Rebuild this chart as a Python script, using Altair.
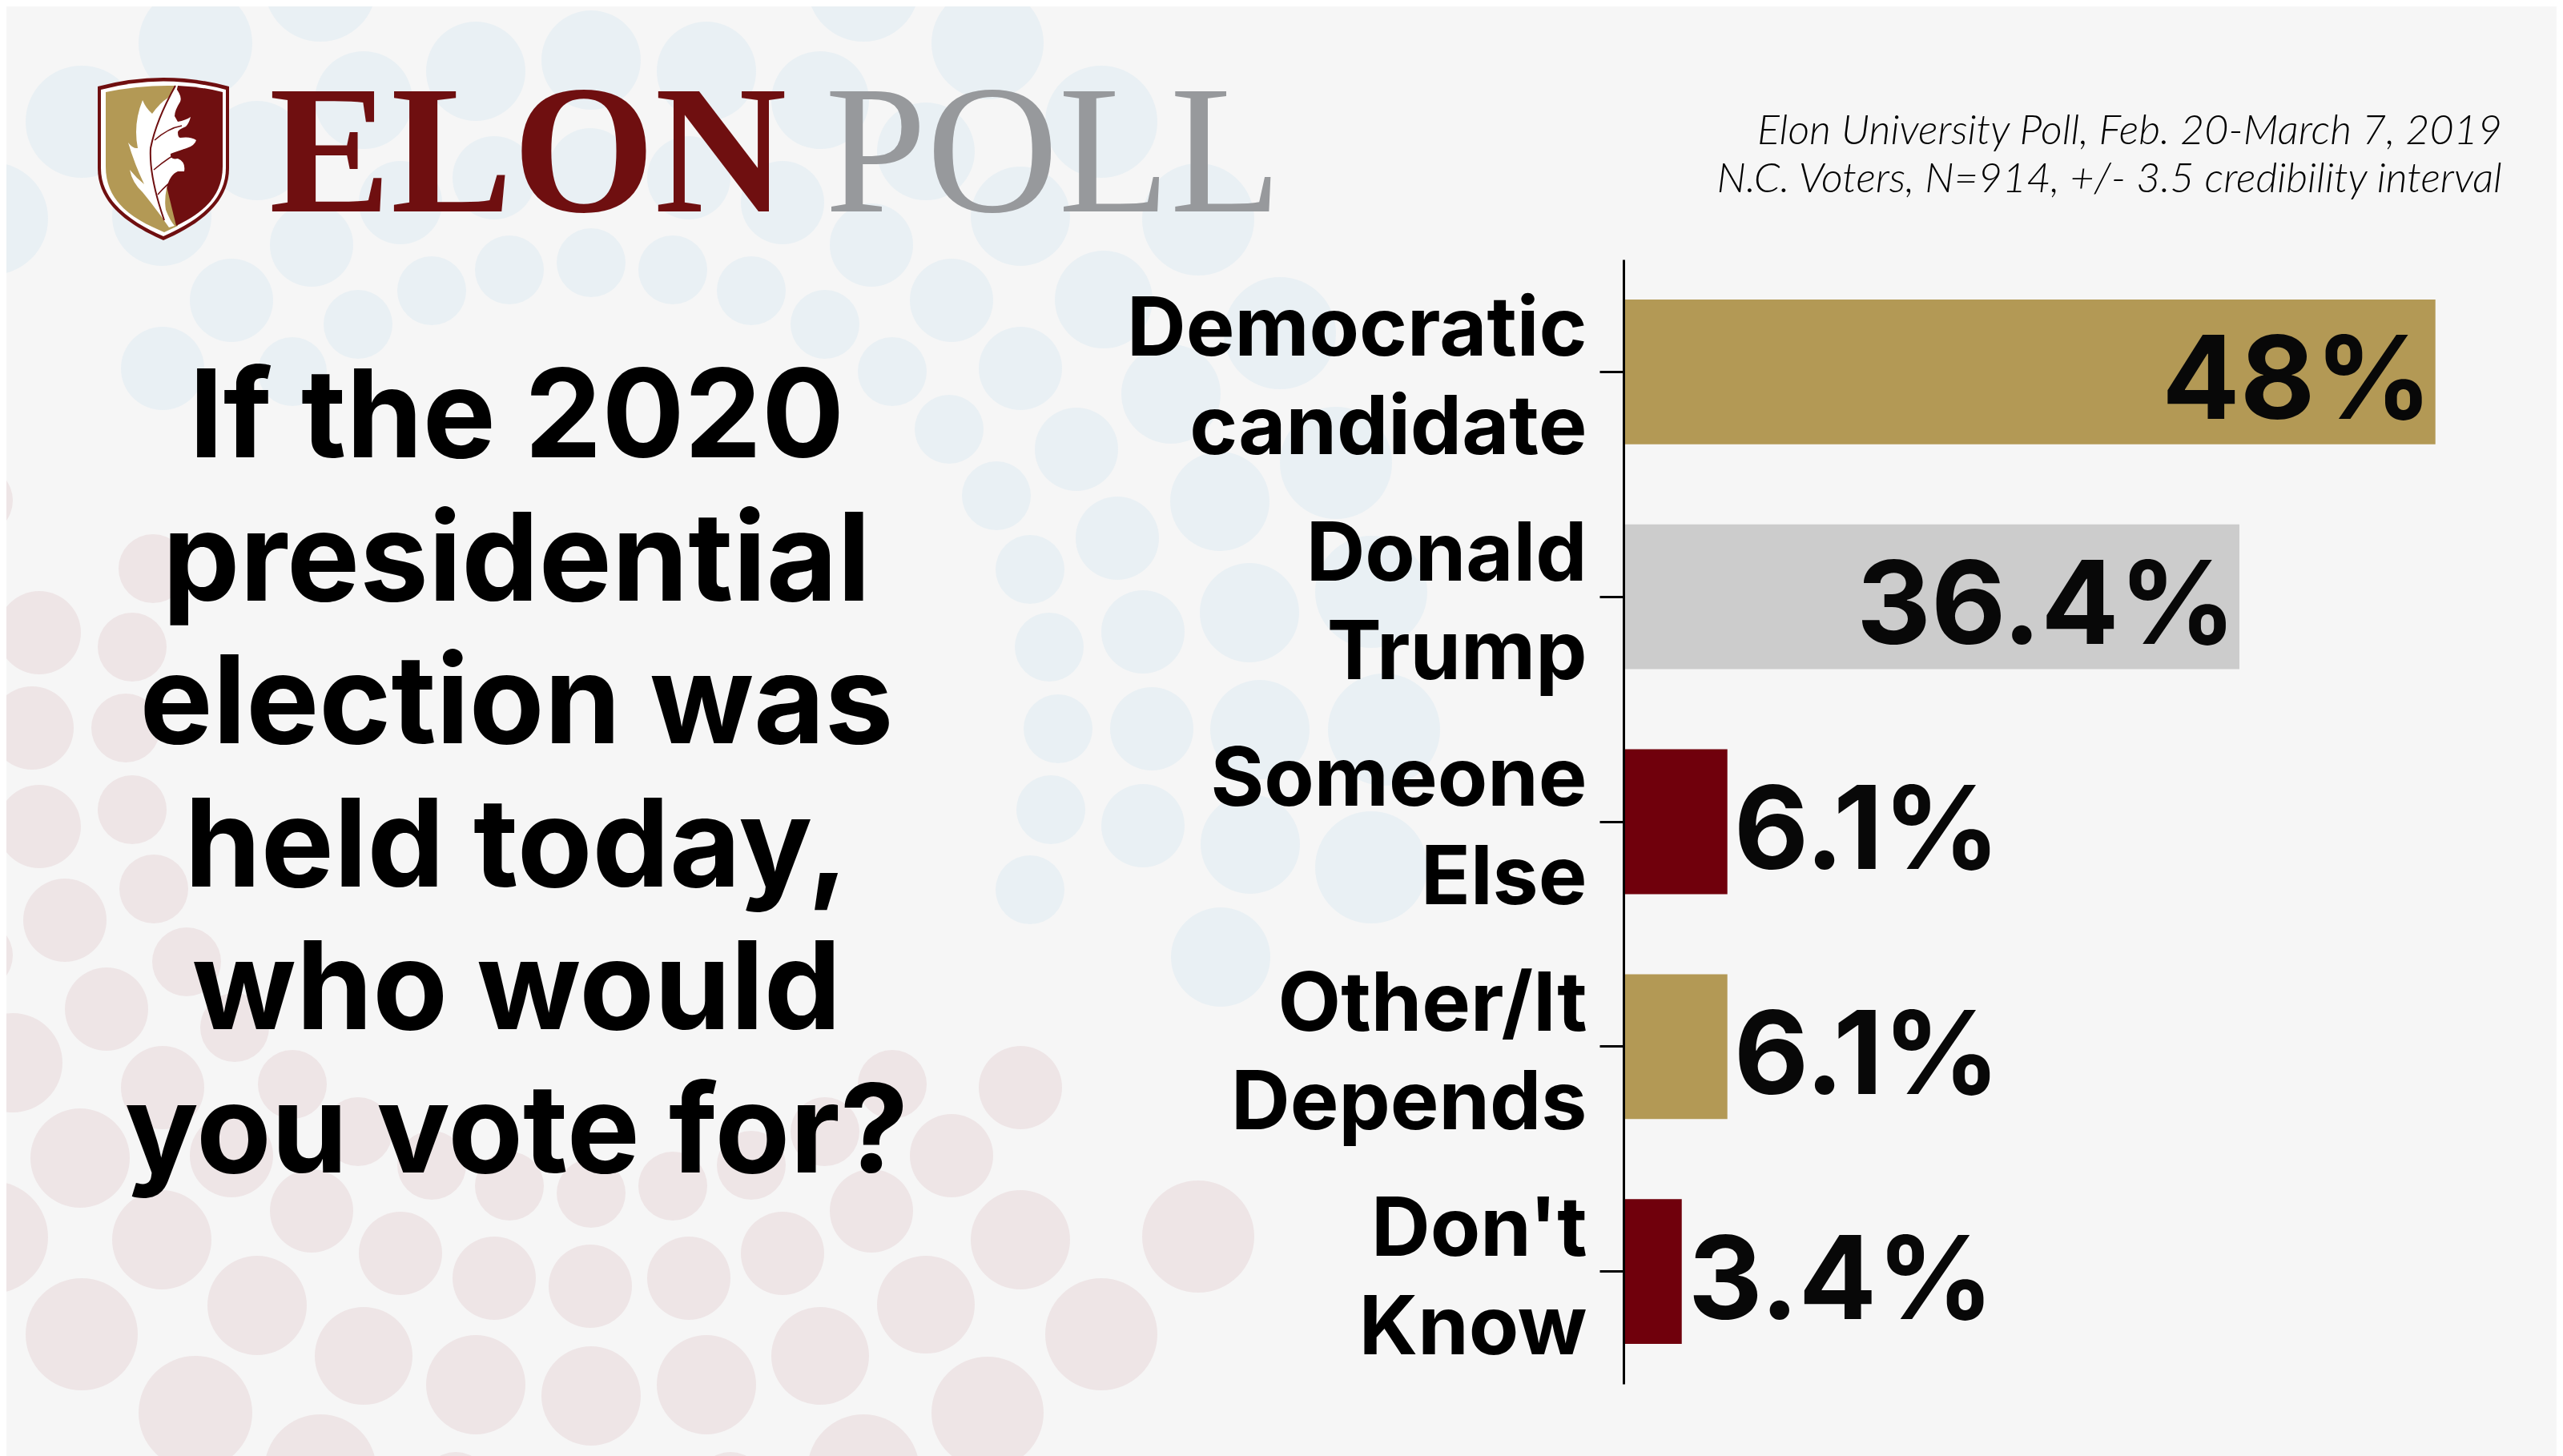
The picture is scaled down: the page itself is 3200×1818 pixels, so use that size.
import altair as alt
import pandas as pd

# ---- chart data
categories = ["Democratic candidate", "Donald Trump", "Someone Else", "Other/It Depends", "Don't Know"]
values = [48.0, 36.4, 6.1, 6.1, 3.4]
value_labels = ["48%", "36.4%", "6.1%", "6.1%", "3.4%"]
bar_colors = ["#b39955", "#cccccc", "#70000c", "#b39955", "#70000c"]

# ---- background dots (x, y, radius in picture pixels)
blue_x = [244,400,569,912,1078,1233,102,1375,-10,1496,
          594,738,882,454,1024,321,1156,202,1274,
          617,737,860,500,977,389,1088,289,1188,203,1274,
          636,738,840,539,938,447,1030,365,1114,
          1378,1598,1462,1185,1344,1244,1395,1523,1286,1427,1310,1560,
          1668,1712,1321,1438,1573,1728,1312,1427,1561,1712,1286,1524]
blue_y = [54,-18,-37,-37,-18,54,152,152,273,274,
          89,75,89,125,125,188,189,270,270,
          222,212,222,253,253,306,306,375,375,460,460,
          337,328,337,363,363,405,405,464,464,
          374,416,492,536,561,619,672,626,711,789,808,765,
          578,739,910,910,911,911,1011,1031,1054,1083,1111,1195]
blue_r = [71,70,42,42,70,70,70,70,70,70,
          62,62,62,61,61,62,61,62,62,
          52,52,52,52,52,52,52,52,52,52,52,
          43,43,43,43,43,43,43,43,43,
          61,70,62,43,52,43,52,62,43,52,43,62,
          70,70,43,52,62,70,43,52,62,70,43,62]
pink_x = [-10,102,244,400,569,912,1078,1233,1375,1496,
          594,738,882,454,1024,321,1156,202,1274,
          617,737,860,500,977,389,1088,289,1188,203,1274,
          636,738,840,539,938,447,1030,365,1114,
          100,293,133,16,233,81,192,49,165,40,157,49,165,191,-27,-27]
pink_y = [1545,1666,1764,1836,1855,1855,1836,1764,1666,1544,
          1729,1743,1729,1693,1693,1630,1629,1548,1548,
          1596,1606,1596,1565,1565,1512,1512,1443,1443,1358,1358,
          1481,1490,1481,1455,1455,1413,1413,1354,1354,
          1446,1283,1260,1327,1201,1149,1110,1032,1011,909,909,790,808,710,625,1193]
pink_r = [70,70,71,70,42,42,70,70,70,70,
          62,62,62,61,61,62,61,62,62,
          52,52,52,52,52,52,52,52,52,52,52,
          43,43,43,43,43,43,43,43,43,
          62,43,52,62,43,52,43,52,43,52,43,52,43,43,43,43]

title_text = "If the 2020\npresidential\nelection was\nheld today,\nwho would\nyou vote for?"
source_text = "Elon University Poll, Feb. 20-March 7, 2019\nN.C. Voters, N=914, +/- 3.5 credibility interval"

BODY = "Inter"
OFF = 8          # the page margin: picture coordinate minus OFF is chart coordinate

def dots(xs, ys, rs, color):
    df = pd.DataFrame({"x": xs, "y": ys, "s": [(2 * r) ** 2 for r in rs]})
    return alt.Chart(df).mark_circle(opacity=1, color=color).encode(
        x=alt.X("x:Q", axis=None, scale=alt.Scale(domain=[OFF, 3200], range=[0, 3192])),
        y=alt.Y("y:Q", axis=None, scale=alt.Scale(domain=[OFF, 1818], range=[0, 1810])),
        size=alt.Size("s:Q", legend=None, scale=None),
    )

def one():
    return alt.Chart(pd.DataFrame({"a": [0]}))

def shape(path, fill=None, stroke=None, sw=0):
    kw = dict(shape=path, size=4, opacity=1, filled=fill is not None, strokeWidth=sw)
    if fill is not None:
        kw["fill"] = fill
    if stroke is not None:
        kw["stroke"] = stroke
    return one().mark_point(**kw).encode(x=alt.value(-OFF), y=alt.value(-OFF))

def text(content, x, y, size, color="#000000", font=BODY, weight=400, align="center", style="normal", lh=None):
    kw = dict(text=content, fontSize=size, color=color, font=font, fontWeight=weight, align=align,
              fontStyle=style, baseline="alphabetic", lineBreak="\n")
    if lh:
        kw["lineHeight"] = lh
    return one().mark_text(**kw).encode(x=alt.value(x - OFF), y=alt.value(y - OFF))

MAROON = "#6f0f10"
GOLD = "#b39955"
logo = [
    shape("M122,108 Q204,86 286,108 L286,210 C286,258 240,284 204,300 C168,284 122,258 122,210 Z", fill=MAROON),
    shape("M126,112 Q204,91 282,112 L282,210 C282,255 238,280 204,295 C170,280 126,255 126,210 Z", fill="#ffffff"),
    shape("M132,115 Q175,106 218,107 L222,282 L205,290 C170,275 132,255 132,208 Z", fill=GOLD),
    shape("M222,107 Q250,108 278,115 L278,208 C278,250 245,270 220,282 L200,200 Z", fill=MAROON),
    shape("M218,108 Q228,120 225,127 Q218,138 218,145 L222,152 Q232,150 238,146 Q236,154 232,158 Q222,162 222,165 "
          "Q222,172 225,172 Q238,170 245,175 Q243,182 233,185 Q218,190 213,192 Q212,200 222,198 Q232,202 230,214 "
          "Q228,214 222,214 Q212,218 208,235 Q205,250 207,262 Q212,275 218,282 L211,284 Q196,262 178,240 "
          "Q165,228 162,212 Q170,222 180,230 Q168,205 160,178 Q166,186 172,185 Q166,155 178,125 Q182,135 190,142 "
          "Q200,128 210,122 Q216,115 218,108 Z", fill="#ffffff"),
    shape("M219,107 Q195,150 188,185 Q186,220 205,275", stroke=MAROON, sw=2),
    shape("M193,175 Q210,160 227,157", stroke=MAROON, sw=1.5),
    shape("M192,212 Q212,195 230,187", stroke=MAROON, sw=1.5),
    shape("M197,243 Q208,230 218,224", stroke=MAROON, sw=1.5),
]

# ---- bars, axis and value labels
bar_df = pd.DataFrame({"cat": categories, "pct": values, "label": value_labels})
x_scale = alt.Scale(domain=[0, 55.55], range=[2028 - OFF, 3200 - OFF], nice=False)
y_scale = alt.Scale(domain=categories, range=[324 - OFF, 1728 - OFF], paddingInner=0.356, paddingOuter=0.178)

bars = alt.Chart(bar_df).mark_bar().encode(
    x=alt.X("pct:Q", scale=x_scale, axis=None),
    y=alt.Y("cat:N", sort=categories, scale=y_scale, title=None, axis=alt.Axis(
        offset=-(2027 - OFF), zindex=1, domainColor="#000000", domainWidth=3, tickColor="#000000", tickWidth=3, tickSize=30,
        labelFont=BODY, labelFontSize=102, labelFontWeight=700, labelColor="#000000", labelPadding=16,
        labelLineHeight=123, labelOffset=-51, labelExpr="split(datum.label, ' ')", labelLimit=0, grid=False)),
    color=alt.Color("cat:N", legend=None, scale=alt.Scale(domain=categories, range=bar_colors)),
)

def labels(test, align, dx):
    return alt.Chart(bar_df).transform_filter(test).mark_text(
        font=BODY, fontSize=144, fontWeight=700, color="#080808", align=align, dx=dx, baseline="middle", dy=16,
    ).encode(
        x=alt.X("pct:Q", scale=x_scale, axis=None),
        y=alt.Y("cat:N", sort=categories, scale=y_scale, axis=None),
        text="label:N",
    )

chart = alt.layer(
    dots(blue_x, blue_y, blue_r, "#e9f0f4"),
    dots(pink_x, pink_y, pink_r, "#eee5e6"),
    *logo,
    text("ELON", 336, 264, 228, color=MAROON, font="Liberation Serif", weight=700, align="left"),
    text("POLL", 1030, 264, 228, color="#97999c", font="Liberation Serif", align="left"),
    text(title_text, 645, 571, 153, weight=700, lh=178.5),
    text(source_text, 3124, 180, 52, weight=300, font="Lato", align="right", style="italic", lh=60),
    bars,
    labels("datum.pct > 20", "right", -4),
    labels("datum.pct < 20", "left", 8),
).resolve_scale(x="independent", y="independent", size="independent", color="independent").properties(
    width=3184, height=1810, padding=0,
    autosize=alt.AutoSizeParams(type="none"),
    background="#f6f6f6",
).configure_view(stroke=None)

chart.save("out.html", embed_options={"renderer": "svg", "actions": False})
